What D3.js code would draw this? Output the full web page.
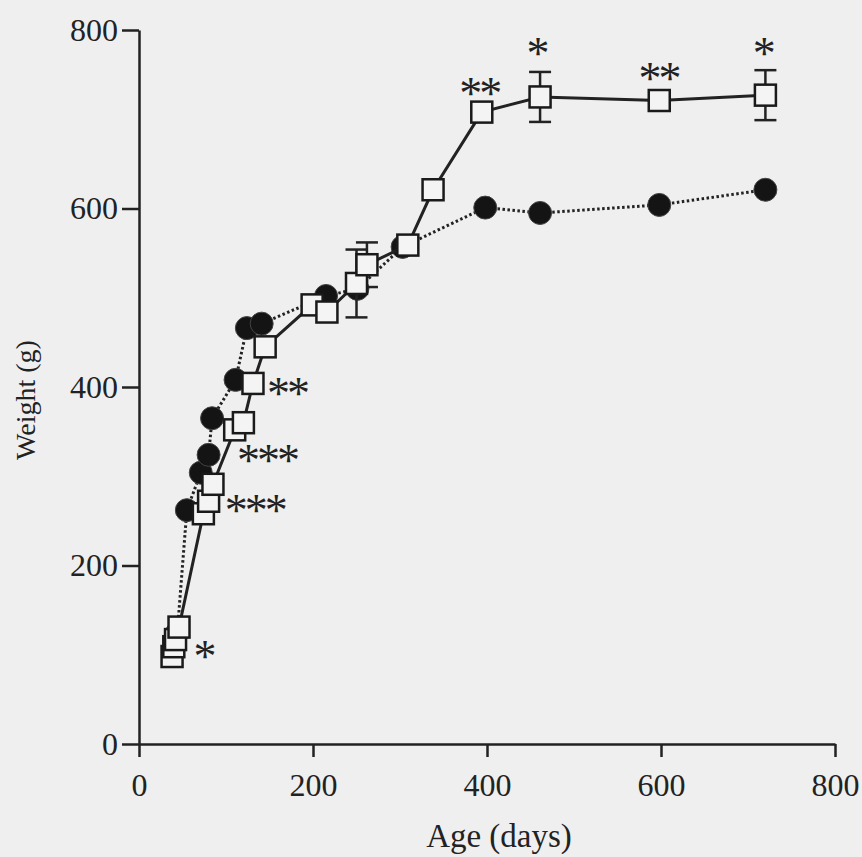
<!DOCTYPE html>
<html>
<head>
<meta charset="utf-8">
<script src="https://cdn.jsdelivr.net/npm/d3@7"></script>
<style>
  html, body { margin: 0; padding: 0; background: #efefef; }
  svg { display: block; }
  text { font-family: "Liberation Serif", "Times New Roman", serif; fill: #222; }
</style>
</head>
<body>
<div id="chart"></div>
<script>
// open squares, solid line
const ageSq = [38, 40, 42, 46, 74, 80, 85, 110, 120, 131, 145, 199, 216, 250, 262, 309, 338, 394, 461, 598, 720];
const weightSq = [98, 109, 117, 131, 258, 272, 291, 352, 360, 404, 445, 492, 484, 516, 537, 559, 621, 708, 725, 721, 727];
const errSq = [0, 0, 0, 0, 0, 0, 0, 0, 0, 0, 0, 0, 0, 38, 25, 0, 0, 0, 28, 0, 28];

// filled circles, dotted line
const ageCi = [44, 55, 71, 80, 84, 111, 124, 141, 215, 251, 303, 398, 461, 598, 720];
const weightCi = [125, 262, 304, 324, 365, 408, 466, 471, 502, 510, 557, 601, 595, 604, 621];

// significance marks
const starText = ["*", "***", "***", "**", "**", "*", "**", "*"];
const starAge = [74, 133, 147, 170, 391, 457, 597, 717];
const starWeight = [105, 268, 325, 400, 736, 780, 752, 780];

const xTicks = [0, 200, 400, 600, 800];
const yTicks = [0, 200, 400, 600, 800];

const W = 862, H = 857;

const svg = d3.select("#chart").append("svg")
    .attr("width", W)
    .attr("height", H);

const x = d3.scaleLinear().domain([0, 800]).range([139, 835]);
const y = d3.scaleLinear().domain([0, 800]).range([744, 30]);

// axes
const xAxis = svg.append("g")
    .attr("transform", `translate(0,${y(0)})`)
    .call(d3.axisBottom(x).tickValues(xTicks).tickSize(13).tickSizeOuter(0).tickPadding(16));

const yAxis = svg.append("g")
    .attr("transform", `translate(${x(0)},0)`)
    .call(d3.axisLeft(y).tickValues(yTicks).tickSize(17).tickSizeOuter(0).tickPadding(4));

[xAxis, yAxis].forEach(g => {
    g.select(".domain").attr("stroke", "#222").attr("stroke-width", 2.5);
    g.selectAll(".tick line").attr("stroke", "#222").attr("stroke-width", 2.5);
    g.selectAll(".tick text")
        .style("font-family", '"Liberation Serif", "Times New Roman", serif')
        .attr("font-size", 32)
        .attr("fill", "#222");
});
xAxis.selectAll(".tick text").attr("dy", "0.71em");

svg.append("text")
    .attr("x", 499)
    .attr("y", 847)
    .attr("text-anchor", "middle")
    .attr("font-size", 33)
    .text("Age (days)");

svg.append("text")
    .attr("transform", "translate(35,400) rotate(-90)")
    .attr("text-anchor", "middle")
    .attr("font-size", 28)
    .text("Weight (g)");

const circles = ageCi.map((a, i) => ({age: a, w: weightCi[i]}));
const squares = ageSq.map((a, i) => ({age: a, w: weightSq[i], err: errSq[i]}));

const line = d3.line().x(d => x(d.age)).y(d => y(d.w));

// circle series first, squares sit on top
svg.append("path")
    .datum(circles)
    .attr("d", line)
    .attr("fill", "none")
    .attr("stroke", "#222")
    .attr("stroke-width", 3)
    .attr("stroke-dasharray", "2.5,2.5");

svg.append("g").selectAll("circle")
    .data(circles)
    .join("circle")
    .attr("cx", d => x(d.age))
    .attr("cy", d => y(d.w))
    .attr("r", 11.5)
    .attr("fill", "#141414")
    .attr("stroke", "#444")
    .attr("stroke-width", 1);

svg.append("path")
    .datum(squares)
    .attr("d", line)
    .attr("fill", "none")
    .attr("stroke", "#222")
    .attr("stroke-width", 3);

// error bars (only where they stick out of the marker)
const eb = svg.append("g").attr("stroke", "#222").attr("stroke-width", 2.5);
squares.filter(d => d.err > 0).forEach(d => {
    const cx = x(d.age);
    eb.append("line").attr("x1", cx).attr("x2", cx).attr("y1", y(d.w - d.err)).attr("y2", y(d.w + d.err));
    eb.append("line").attr("x1", cx - 11).attr("x2", cx + 11).attr("y1", y(d.w - d.err)).attr("y2", y(d.w - d.err));
    eb.append("line").attr("x1", cx - 11).attr("x2", cx + 11).attr("y1", y(d.w + d.err)).attr("y2", y(d.w + d.err));
});

const s = 21;
svg.append("g").selectAll("rect")
    .data(squares)
    .join("rect")
    .attr("x", d => x(d.age) - s / 2)
    .attr("y", d => y(d.w) - s / 2)
    .attr("width", s)
    .attr("height", s)
    .attr("fill", "#f4f4f4")
    .attr("stroke", "#1a1a1a")
    .attr("stroke-width", 2.5);

// asterisks: positioned by their visual centre, glyph sits ~0.47em above baseline
const fs = 46;
svg.append("g").selectAll("text")
    .data(starText.map((t, i) => ({t, age: starAge[i], w: starWeight[i]})))
    .join("text")
    .attr("x", d => x(d.age))
    .attr("y", d => y(d.w) + fs * 0.47)
    .attr("text-anchor", "middle")
    .attr("font-size", fs)
    .attr("letter-spacing", -3)
    .attr("fill", "#2a2a2a")
    .text(d => d.t);
</script>
</body>
</html>
